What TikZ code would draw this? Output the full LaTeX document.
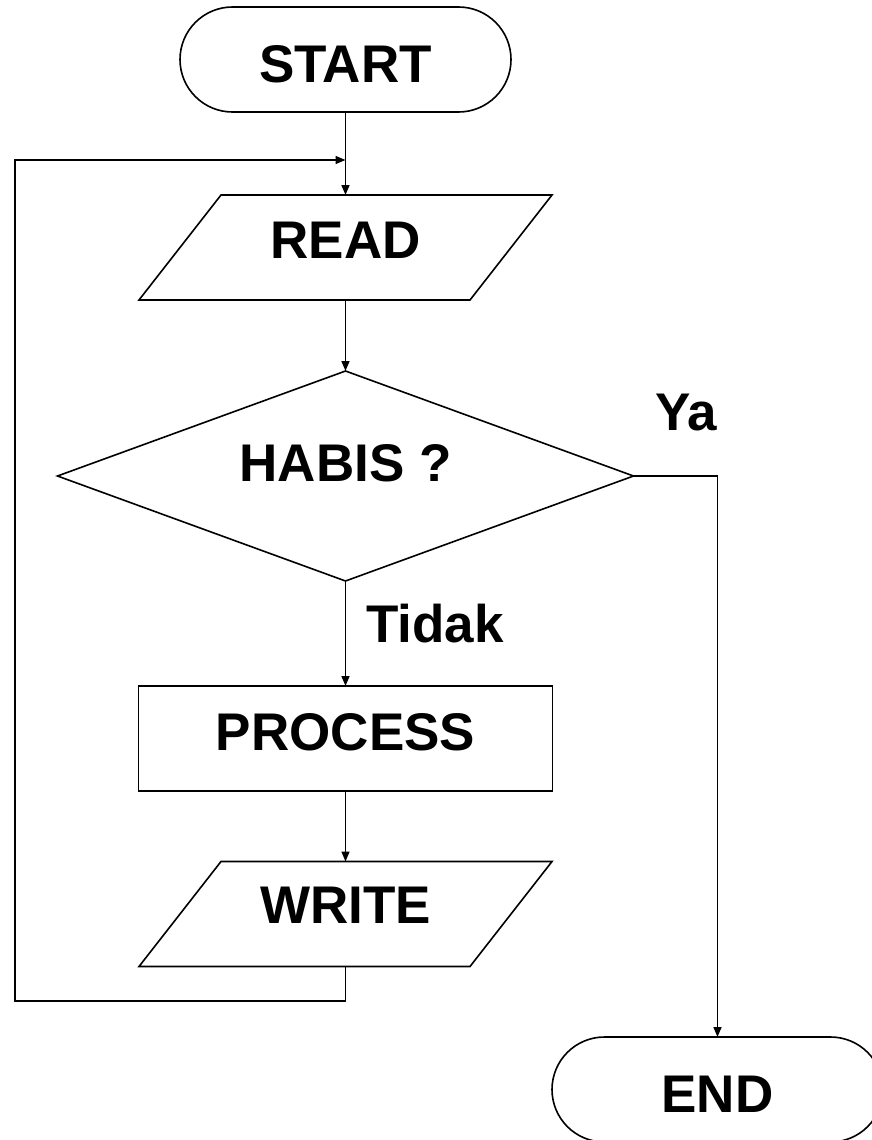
\documentclass[tikz,border=0pt]{standalone}
\usepackage{fontspec}
\setmainfont{Liberation Sans}
\usetikzlibrary{arrows.meta}
\begin{document}
\begin{tikzpicture}[x=1pt,y=-1pt,
  every node/.style={font=\fontsize{53}{60}\selectfont\bfseries, inner sep=0pt, outer sep=0pt},
  ln/.style={line width=1.6pt, line join=miter},
  arr/.style={ln, -{Triangle[length=10pt,width=8pt]}},
  box/.style={minimum height=105pt, text height=38pt, text depth=0pt},
  term/.style={box, draw, ln, rounded corners=52.5pt, minimum width=331pt},
]
\useasboundingbox[fill=white] (0,0) rectangle (871,1140);
% shapes
\node[term, text height=45pt] (start) at (345.5,59.5) {START};
\node[box, minimum width=331pt, text depth=17pt] (read) at (345.5,247.5) {READ};
\draw[ln] ([xshift=41pt]read.north west) -- ([xshift=41pt]read.north east)
  -- ([xshift=-41pt]read.south east) -- ([xshift=-41pt]read.south west) -- cycle;
\node[minimum width=576pt, minimum height=210pt, text height=38pt, text depth=28pt] (habis) at (345.5,476) {HABIS ?};
\draw[ln] (habis.north) -- (habis.east) -- (habis.south) -- (habis.west) -- cycle;
\node[box, draw, ln, minimum width=414pt, text depth=15pt] (process) at (345.5,738.5) {PROCESS};
\node[box, minimum width=331pt, text depth=20pt] (write) at (345.5,914) {WRITE};
\draw[ln] ([xshift=41pt]write.north west) -- ([xshift=41pt]write.north east)
  -- ([xshift=-41pt]write.south east) -- ([xshift=-41pt]write.south west) -- cycle;
\node[term, text height=46pt] (end) at (717.5,1089.5) {END};
% labels
\node (ya) at (686,413) {Ya};
\node (tidak) at (435,624) {Tidak};
% connectors
\coordinate (merge) at (345.5,160);
\coordinate (looptop) at (15,160);
\coordinate (loopbot) at (15,1001);
\draw[arr] (start.south) -- (read.north);
\draw[arr] (read.south) -- (habis.north);
\draw[arr] (habis.south) -- (process.north);
\draw[arr] (process.south) -- (write.north);
\draw[arr] (write.south) |- (loopbot) -- (looptop) -- (merge);
\draw[arr] (habis.east) -| (end.north);
\end{tikzpicture}
\end{document}
